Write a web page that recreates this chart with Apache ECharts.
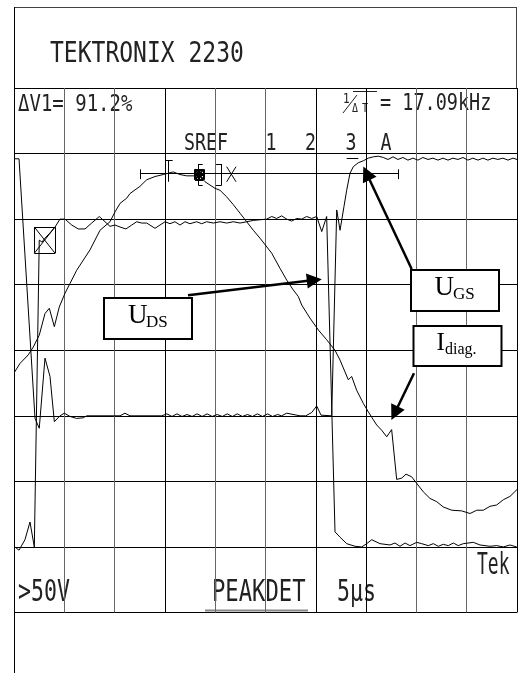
<!DOCTYPE html>
<html>
<head>
<meta charset="utf-8">
<script src="https://cdn.jsdelivr.net/npm/echarts@6/dist/echarts.min.js"></script>
<style>html,body{margin:0;padding:0;background:#fff}#c{width:519px;height:673px}</style>
</head>
<body>
<div id="c"></div>
<script>
// x: time in microseconds (5 µs/div), y: screen divisions (0..8)
const xTicks = [0, 5, 10, 15, 20, 25, 30, 35, 40, 45, 50];
const yTicks = [0, 1, 2, 3, 4, 5, 6, 7, 8];

// U_GS trace
const uGS = [
  [0,6.92],[0.50,6.92],[2.09,2.96],[2.51,2.81],[3.08,3.88],[3.58,3.60],[4.01,2.91],[4.57,3.00],
  [5.00,3.04],[5.57,2.99],[6.23,2.96],[6.89,2.97],[7.23,3.00],[10.54,3.00],[11.03,3.04],[11.53,3.00],
  [14.68,3.00],[15.2,3.03],[15.7,2.99],[16.2,3.03],[16.7,2.99],[17.2,3.02],[17.7,2.99],[18.2,3.03],
  [18.7,2.99],[19.2,3.03],[19.7,2.99],[20.2,3.02],[20.7,2.99],[21.2,3.03],[21.7,2.99],[22.2,3.03],
  [22.7,2.99],[23.2,3.02],[23.7,2.99],[24.2,3.03],[24.7,2.99],[25.2,3.03],[25.7,2.99],[26.2,3.02],
  [26.6,3.00],[27.11,3.04],[28.43,3.00],[29.0,3.00],[29.59,3.05],[30.09,3.15],[30.52,3.01],[31.58,3.00],
  [32.08,6.14],[32.41,5.83],[32.80,6.19],[33.07,6.44],[33.40,6.70],[33.73,6.80],[34.22,6.86],[34.72,6.89],
  [35.22,6.93],[35.72,6.95],[36.21,6.96],[36.71,6.94],[37.18,6.91],[37.67,6.95],[38.17,6.91],[38.66,6.94],
  [39.16,6.90],[39.66,6.93],[40.15,6.90],[40.65,6.94],[41.15,6.91],[41.65,6.93],[42.14,6.90],[42.64,6.93],
  [43.14,6.90],[43.63,6.93],[44.13,6.91],[44.63,6.94],[45.12,6.90],[45.62,6.93],[46.12,6.90],[46.61,6.93],
  [47.11,6.90],[47.61,6.93],[48.10,6.91],[48.60,6.93],[49.10,6.90],[49.60,6.93],[50,6.91]
];

// U_DS trace
const uDS = [
  [0,1.01],[0.50,0.95],[1.09,1.11],[1.59,1.38],[2.02,1.00],[2.16,1.01],[2.51,5.68],[2.78,5.65],
  [3.08,5.71],[3.58,5.79],[4.08,5.88],[4.57,6.00],[5.07,6.00],[5.74,5.91],[6.39,5.85],[7.06,5.85],
  [7.72,5.94],[8.48,6.04],[9.05,5.96],[9.54,5.89],[10.04,5.91],[10.54,5.88],[11.13,5.85],[11.70,5.91],
  [12.20,5.96],[12.69,5.94],[13.19,5.94],[14.02,5.86],[14.51,5.91],[15.01,5.96],[15.51,5.93],[16.00,5.96],
  [16.50,5.91],[17.00,5.96],[17.49,5.93],[18.16,5.96],[18.66,5.93],[19.15,5.96],[19.81,5.94],[20.48,5.96],
  [21.14,5.94],[21.80,5.96],[22.47,5.94],[23.13,5.96],[23.79,5.98],[24.45,5.99],[25.12,6.00],[25.62,6.04],
  [26.11,6.01],[26.61,6.05],[27.11,6.00],[27.60,5.97],[28.10,6.01],[28.60,6.00],[29.10,6.04],[29.59,6.01],
  [30.09,6.04],[30.59,5.81],[31.08,6.04],[31.91,1.23],[32.40,1.15],[33.07,1.05],[33.90,1.01],[34.56,1.00],
  [35.06,1.05],[35.56,1.11],[36.38,1.05],[37.38,1.03],[37.87,1.06],[38.37,1.01],[38.87,1.06],[39.36,1.02],
  [40.03,1.07],[40.53,1.05],[41.18,1.02],[41.68,1.05],[42.18,1.01],[42.67,1.04],[43.17,1.02],[43.67,1.06],
  [44.16,1.02],[44.66,1.05],[45.66,1.07],[46.32,1.03],[47.32,1.01],[47.98,1.02],[48.64,1.00],[49.30,1.03],
  [49.97,1.00]
];

// I_diag trace
const iDiag = [
  [0.07,3.67],[0.60,3.80],[1.42,3.93],[1.92,4.05],[2.51,4.23],[3.08,4.56],[3.51,4.64],[4.01,4.36],
  [4.50,4.66],[5.07,4.87],[5.57,5.02],[6.23,5.22],[7.55,5.53],[8.55,5.83],[9.54,5.96],[10.04,6.11],
  [10.54,6.24],[11.20,6.32],[11.53,6.39],[12.52,6.50],[13.19,6.60],[14.02,6.65],[14.84,6.68],[15.83,6.72],
  [16.50,6.68],[17.17,6.66],[17.99,6.66],[18.49,6.66],[18.99,6.57],[19.48,6.52],[19.98,6.47],[20.48,6.44],
  [21.14,6.34],[21.80,6.22],[22.47,6.09],[23.13,5.96],[23.79,5.83],[24.45,5.71],[25.62,5.48],[26.44,5.25],
  [27.11,5.07],[27.76,4.92],[28.26,4.82],[28.60,4.69],[29.42,4.49],[30.25,4.31],[31.08,4.16],[31.91,4.00],
  [32.41,3.85],[32.90,3.67],[33.23,3.55],[33.57,3.60],[34.06,3.39],[34.72,3.19],[35.22,3.06],[35.72,2.94],
  [36.05,2.86],[36.55,2.78],[37.05,2.68],[37.54,2.79],[38.04,2.03],[38.54,2.05],[38.97,2.11],[39.53,2.07],
  [40.03,1.97],[40.69,1.84],[41.35,1.74],[42.02,1.69],[42.67,1.61],[43.51,1.56],[44.50,1.55],[45.33,1.51],
  [46.00,1.56],[46.65,1.56],[47.32,1.62],[47.98,1.64],[48.64,1.72],[49.30,1.77],[50.03,1.88]
];

// on-screen cursor / marker strokes, each [x1, y1, x2, y2] in data units
const cursorSegs = [
  [12.52,6.70,38.17,6.70],[12.52,6.76,12.52,6.61],[38.17,6.76,38.17,6.61],
  [15.01,6.90,15.77,6.90],[15.34,6.90,15.34,6.57],
  [18.76,6.84,18.32,6.84],[18.32,6.84,18.32,6.52],[18.32,6.52,18.76,6.52],
  [20.08,6.84,20.65,6.84],[20.65,6.84,20.65,6.52],[20.65,6.52,20.08,6.52],
  [21.14,6.80,22.07,6.57],[21.14,6.57,22.07,6.80],
  [33.07,6.93,34.22,6.93],
  [2.02,5.88,4.08,5.88],[4.08,5.88,4.08,5.48],[4.08,5.48,2.02,5.48],[2.02,5.48,2.02,5.88],
  [2.02,5.88,4.08,5.48],[2.02,5.48,4.08,5.88]
];
const filledMarker = [
  [17.99,6.76,18.82,6.76],[18.82,6.76,18.82,6.60],[18.82,6.60,17.99,6.60],[17.99,6.60,17.99,6.76],
  [17.99,6.76,18.82,6.60],[17.99,6.60,18.82,6.76],[18.40,6.76,18.40,6.60],[17.99,6.68,18.82,6.68]
];
// annotation arrows [x1, y1, x2, y2] (end = arrow head)
const arrows = [
  [17.30,4.84,29.85,5.07],
  [39.53,5.24,35.04,6.70],
  [39.76,3.65,37.84,3.04]
];

const chart = echarts.init(document.getElementById('c'), null, {renderer: 'canvas'});

function segs(list) {
  return list.map(s => [{coord: [s[0], s[1]]}, {coord: [s[2], s[3]]}]);
}
const vColors = ['#000','#666','#666','#000','#666','#666','#000','#000','#666','#666','#000'];

const mono = '"DejaVu Sans Mono", monospace';
function stext(str, x, y, size, sy) {
  return {
    type: 'text', x: x, y: y, scaleY: sy, silent: true,
    style: {text: str, font: size + 'px ' + mono, fill: '#222',
            align: 'left', verticalAlign: 'middle', textAlign: 'left', textVerticalAlign: 'middle'}
  };
}
function serif(str, x, y, size) {
  return {
    type: 'text', x: x, y: y, silent: true, z: 12,
    style: {text: str, font: size + 'px "Liberation Serif", "DejaVu Serif", serif', fill: '#000',
            align: 'left', verticalAlign: 'middle', textAlign: 'left', textVerticalAlign: 'middle'}
  };
}
function box(x, y, w, h) {
  return {type: 'rect', silent: true, shape: {x: x, y: y, width: w, height: h},
          style: {fill: '#fff', stroke: '#000', lineWidth: 2}, z: 11};
}
function gline(x1, y1, x2, y2, color, w) {
  return {type: 'line', silent: true, shape: {x1: x1, y1: y1, x2: x2, y2: y2},
          style: {stroke: color, lineWidth: w}};
}

const option = {
  animation: false,
  backgroundColor: '#fff',
  grid: {left: 14, right: 2, top: 88, bottom: 60.5},
  xAxis: {
    type: 'value', min: 0, max: 50, interval: 5,
    axisLine: {show: false}, axisTick: {show: false}, axisLabel: {show: false},
    splitLine: {show: true, lineStyle: {color: vColors, width: 1}}
  },
  yAxis: {
    type: 'value', min: 0, max: 8, interval: 1,
    axisLine: {show: false}, axisTick: {show: false}, axisLabel: {show: false},
    splitLine: {show: true, lineStyle: {color: '#000', width: 1}}
  },
  series: [
    {name: 'U_GS', type: 'line', data: uGS, showSymbol: false, symbol: 'none',
     lineStyle: {color: '#000', width: 1}, silent: true},
    {name: 'U_DS', type: 'line', data: uDS, showSymbol: false, symbol: 'none',
     lineStyle: {color: '#000', width: 1}, silent: true},
    {name: 'I_diag', type: 'line', data: iDiag, showSymbol: false, symbol: 'none',
     lineStyle: {color: '#000', width: 1}, silent: true},
    {name: 'cursors', type: 'line', data: [], silent: true,
     markLine: {silent: true, symbol: 'none', label: {show: false},
                lineStyle: {color: '#000', width: 1, type: 'solid'},
                emphasis: {disabled: true}, data: segs(cursorSegs)}},
    {name: 'marker', type: 'line', data: [], silent: true,
     markLine: {silent: true, symbol: 'none', label: {show: false},
                lineStyle: {color: '#000', width: 2, type: 'solid'},
                emphasis: {disabled: true}, data: segs(filledMarker)}},
    {name: 'arrows', type: 'line', data: [], silent: true, z: 5,
     markLine: {silent: true, symbol: ['none', 'triangle'], symbolSize: 15, label: {show: false},
                lineStyle: {color: '#000', width: 2.5, type: 'solid'},
                itemStyle: {color: '#000'},
                emphasis: {disabled: true}, data: segs(arrows)}}
  ],
  graphic: [
    gline(14, 7.5, 517, 7.5, '#444', 1),
    gline(14.5, 7, 14.5, 673, '#000', 1),
    gline(516.5, 7, 516.5, 88, '#444', 1),
    gline(205, 610.5, 308, 610.5, '#888', 2),
    gline(353, 91.5, 377, 91.5, '#222', 1),
    gline(343, 113, 357, 95, '#222', 1),
    stext('TEKTRONIX 2230', 50, 55, 23, 1.2),
    stext('\u0394V1= 91.2%', 18, 105, 19, 1.2),
    stext('1', 343, 100, 11, 1.2),
    stext('\u0394', 352, 108.5, 10, 1.2),
    stext('T', 362, 108.5, 10, 1.2),
    stext('= 17.09kHz', 380, 104, 18.5, 1.25),
    stext('SREF', 184, 143.5, 18.3, 1.28),
    stext('1', 265.5, 143.5, 18.3, 1.28),
    stext('2', 305, 143.5, 18.3, 1.28),
    stext('3', 345.5, 143.5, 18.3, 1.28),
    stext('A', 380.5, 143.5, 18.3, 1.28),
    stext('>50V', 18, 593, 21.6, 1.4),
    stext('PEAKDET', 212, 593, 22.2, 1.36),
    stext('5\u00b5s', 337, 593, 21.6, 1.4),
    stext('Tek', 477, 566.5, 18, 1.67),
    box(104, 298, 88, 41),
    serif('U', 128, 316, 27),
    serif('DS', 146, 322.5, 17),
    box(411, 270, 88, 41),
    serif('U', 434.5, 288, 27),
    serif('GS', 453, 295, 17),
    box(413.5, 326, 88, 40),
    serif('I', 436.5, 343.5, 25),
    serif('diag.', 445, 349.5, 16)
  ]
};
chart.setOption(option);
</script>
</body>
</html>
